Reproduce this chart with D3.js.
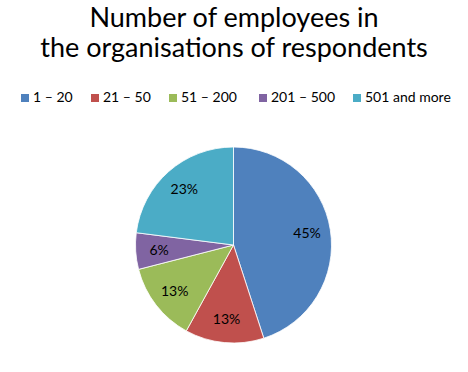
<!DOCTYPE html>
<html>
<head>
<meta charset="utf-8">
<script src="https://cdn.jsdelivr.net/npm/d3@7/dist/d3.min.js"></script>
<style>
    body { margin: 0; background: #fff; }
    text { font-family: Lato, "Open Sans", sans-serif; fill: #000; }
</style>
</head>
<body>
<svg id="chart" width="468" height="372"></svg>
<script>
// data
const titleLines = ["Number of employees in", "the organisations of respondents"];
const categories = ["1 \u2013 20", "21 \u2013 50", "51 \u2013 200", "201 \u2013 500", "501 and more"];
const shares = [45, 13, 13, 6, 23];
const colours = ["#4F81BD", "#C0504D", "#9BBB59", "#8064A2", "#4BACC6"];

const svg = d3.select("#chart");
const width = 468, height = 372;

// title
svg.append("g").selectAll("text")
    .data(titleLines)
    .enter()
    .append("text")
    .attr("x", 234)
    .attr("y", (d, i) => 27 + i * 30)
    .attr("text-anchor", "middle")
    .style("font-size", "27px")
    .text(d => d);

// legend
const legendX = [21, 91, 169, 259, 353];
const legend = svg.append("g").selectAll("g")
    .data(categories)
    .enter()
    .append("g")
    .attr("transform", (d, i) => "translate(" + legendX[i] + ",94)");
legend.append("rect")
    .attr("width", 8)
    .attr("height", 8)
    .attr("fill", (d, i) => colours[i]);
legend.append("text")
    .attr("x", 12)
    .attr("y", 8)
    .style("font-size", "14px")
    .text(d => d);

// pie
const cx = 233.5, cy = 245, r = 98;
const pie = d3.pie().sort(null).value(d => d);
const arc = d3.arc().innerRadius(0).outerRadius(r);
const labelArc = d3.arc().innerRadius(r * 0.76).outerRadius(r * 0.76);

const g = svg.append("g").attr("transform", "translate(" + cx + "," + cy + ")");
const slices = pie(shares);

g.selectAll("path")
    .data(slices)
    .enter()
    .append("path")
    .attr("d", arc)
    .attr("fill", (d, i) => colours[i])
    .attr("stroke", "#fff")
    .attr("stroke-width", 0.8);

g.selectAll("text")
    .data(slices)
    .enter()
    .append("text")
    .attr("transform", d => "translate(" + labelArc.centroid(d) + ")")
    .attr("text-anchor", "middle")
    .attr("dy", "0.35em")
    .style("font-size", "14px")
    .text(d => d.data + "%");
</script>
</body>
</html>
